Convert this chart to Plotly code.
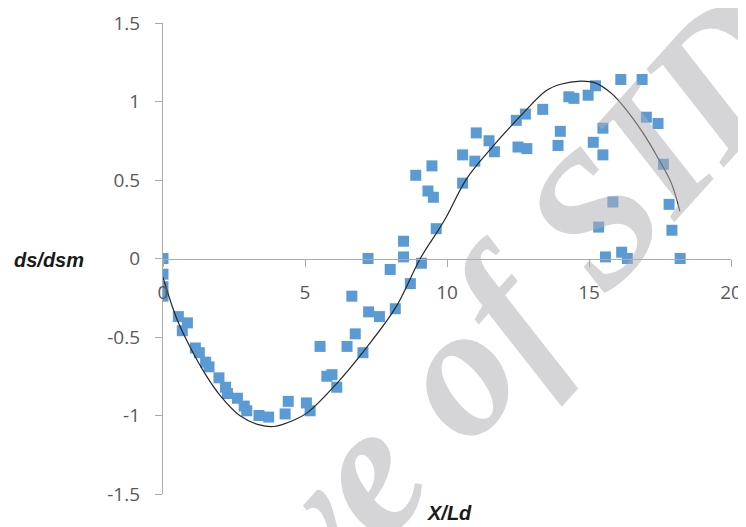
import plotly.graph_objects as go

# Measured data (X/Ld, ds/dsm)
x_data = [0, 0, 0, 0,
          0.54, 0.86, 0.68,
          1.14, 1.28, 1.50, 1.62,
          1.97, 2.20, 2.27, 2.62, 2.86, 2.95,
          3.38, 3.72, 4.30, 4.41, 5.05, 5.18,
          5.53, 5.77, 5.95, 6.12, 6.48, 6.77, 7.04,
          6.65, 7.24, 7.62, 8.18, 7.22, 8.00,
          8.47, 8.47, 8.71, 9.10, 9.62,
          8.90, 9.47, 9.33, 9.52,
          10.55, 10.55, 10.98, 11.03, 11.48, 11.67,
          12.44, 12.76, 13.37, 12.50, 12.81,
          13.99, 13.91, 14.29, 14.47, 14.97, 15.23,
          16.12, 16.87, 15.49, 15.15, 15.49,
          17.02, 17.43, 17.62, 15.84, 17.82, 15.34, 17.92,
          15.58, 16.15, 16.35, 18.21]
y_data = [0.0, -0.10, -0.18, -0.24,
          -0.37, -0.41, -0.46,
          -0.57, -0.60, -0.66, -0.69,
          -0.76, -0.82, -0.86, -0.89, -0.94, -0.97,
          -1.00, -1.01, -0.99, -0.91, -0.92, -0.97,
          -0.56, -0.75, -0.74, -0.82, -0.56, -0.48, -0.60,
          -0.24, -0.34, -0.37, -0.32, 0.0, -0.07,
          0.01, 0.11, -0.16, -0.03, 0.19,
          0.53, 0.59, 0.43, 0.39,
          0.48, 0.66, 0.62, 0.80, 0.75, 0.68,
          0.88, 0.92, 0.95, 0.71, 0.70,
          0.81, 0.72, 1.03, 1.02, 1.04, 1.10,
          1.14, 1.14, 0.83, 0.74, 0.66,
          0.90, 0.86, 0.60, 0.36, 0.345, 0.20, 0.18,
          0.01, 0.04, 0.0, 0.0]

# Trend curve
curve_x = [0, 0.5, 1, 1.5, 2, 2.7, 3.4, 3.9, 4.6, 5.1, 6.1, 7.2, 8.2, 9.06,
           9.9, 10.7, 11.5, 12.6, 13.5, 14.0, 14.7, 15.2, 15.8, 16.3, 16.9,
           17.4, 17.9, 18.2]
curve_y = [-0.12, -0.39, -0.58, -0.74, -0.87, -1.0, -1.06, -1.07, -1.03, -0.98,
           -0.80, -0.56, -0.31, 0.0, 0.24, 0.51, 0.69, 0.91, 1.07, 1.11, 1.13,
           1.12, 1.05, 0.95, 0.80, 0.65, 0.48, 0.30]

x_ticks = [0, 5, 10, 15, 20]
x_ticktext = ["0", "5", "10", "15", "20"]
y_ticks = [1.5, 1, 0.5, 0, -0.5, -1, -1.5]
y_ticktext = ["1.5", "1", "0.5", "0", "-0.5", "-1", "-1.5"]

AXIS = "#ababab"
TICKFONT = dict(family="Open Sans, Liberation Sans, sans-serif", size=19, color="#595959")
TITLEFONT = dict(family="Liberation Sans, Arial, sans-serif", size=20, color="#1a1a1a")

fig = go.Figure()
fig.add_trace(go.Scatter(
    x=x_data, y=y_data, mode="markers",
    marker=dict(symbol="square", size=11, color="#5B9BD5", line=dict(width=0)),
    showlegend=False, hoverinfo="skip"))
fig.add_trace(go.Scatter(
    x=curve_x, y=curve_y, mode="lines",
    line=dict(color="#262626", width=1.2, shape="spline", smoothing=1.0),
    showlegend=False, hoverinfo="skip"))

# The page body adds an 8px offset, so the figure is sized to fit the window.
fig.update_layout(
    width=738, height=519,
    margin=dict(l=155, r=15, t=15, b=33, pad=0),
    paper_bgcolor="white", plot_bgcolor="white",
    xaxis=dict(range=[0, 20], tickvals=x_ticks, ticktext=x_ticktext,
               anchor="free", position=0.5, showgrid=False, zeroline=False,
               automargin=False,
               showline=True, linecolor=AXIS, linewidth=1.2,
               ticks="outside", ticklen=7, tickcolor=AXIS, tickwidth=1.2,
               tickfont=TICKFONT, ticklabelstandoff=10),
    yaxis=dict(range=[-1.5, 1.5], tickvals=y_ticks, ticktext=y_ticktext,
               showgrid=False, zeroline=False, automargin=False,
               showline=True, linecolor=AXIS, linewidth=1.2,
               ticks="outside", ticklen=7, tickcolor=AXIS, tickwidth=1.2,
               tickfont=TICKFONT, ticklabelstandoff=11),
    annotations=[
        dict(text="<b><i>ds/dsm</i></b>", xref="paper", yref="paper",
             x=-0.2, y=0.497, xanchor="center", yanchor="middle", showarrow=False,
             font=TITLEFONT),
        dict(text="<b><i>X/Ld</i></b>", xref="paper", yref="paper",
             x=0.505, y=-0.040, xanchor="center", yanchor="middle", showarrow=False,
             font=TITLEFONT),
        dict(text="<b><i>Archive of SID</i></b>", xref="paper", yref="paper",
             x=0.37, y=0.07, xanchor="center", yanchor="middle", showarrow=False,
             textangle=-48,
             font=dict(family="Liberation Serif, Times New Roman, serif", size=188,
                       color="rgba(175,175,180,0.52)")),
    ],
)

fig.write_html("out.html")
